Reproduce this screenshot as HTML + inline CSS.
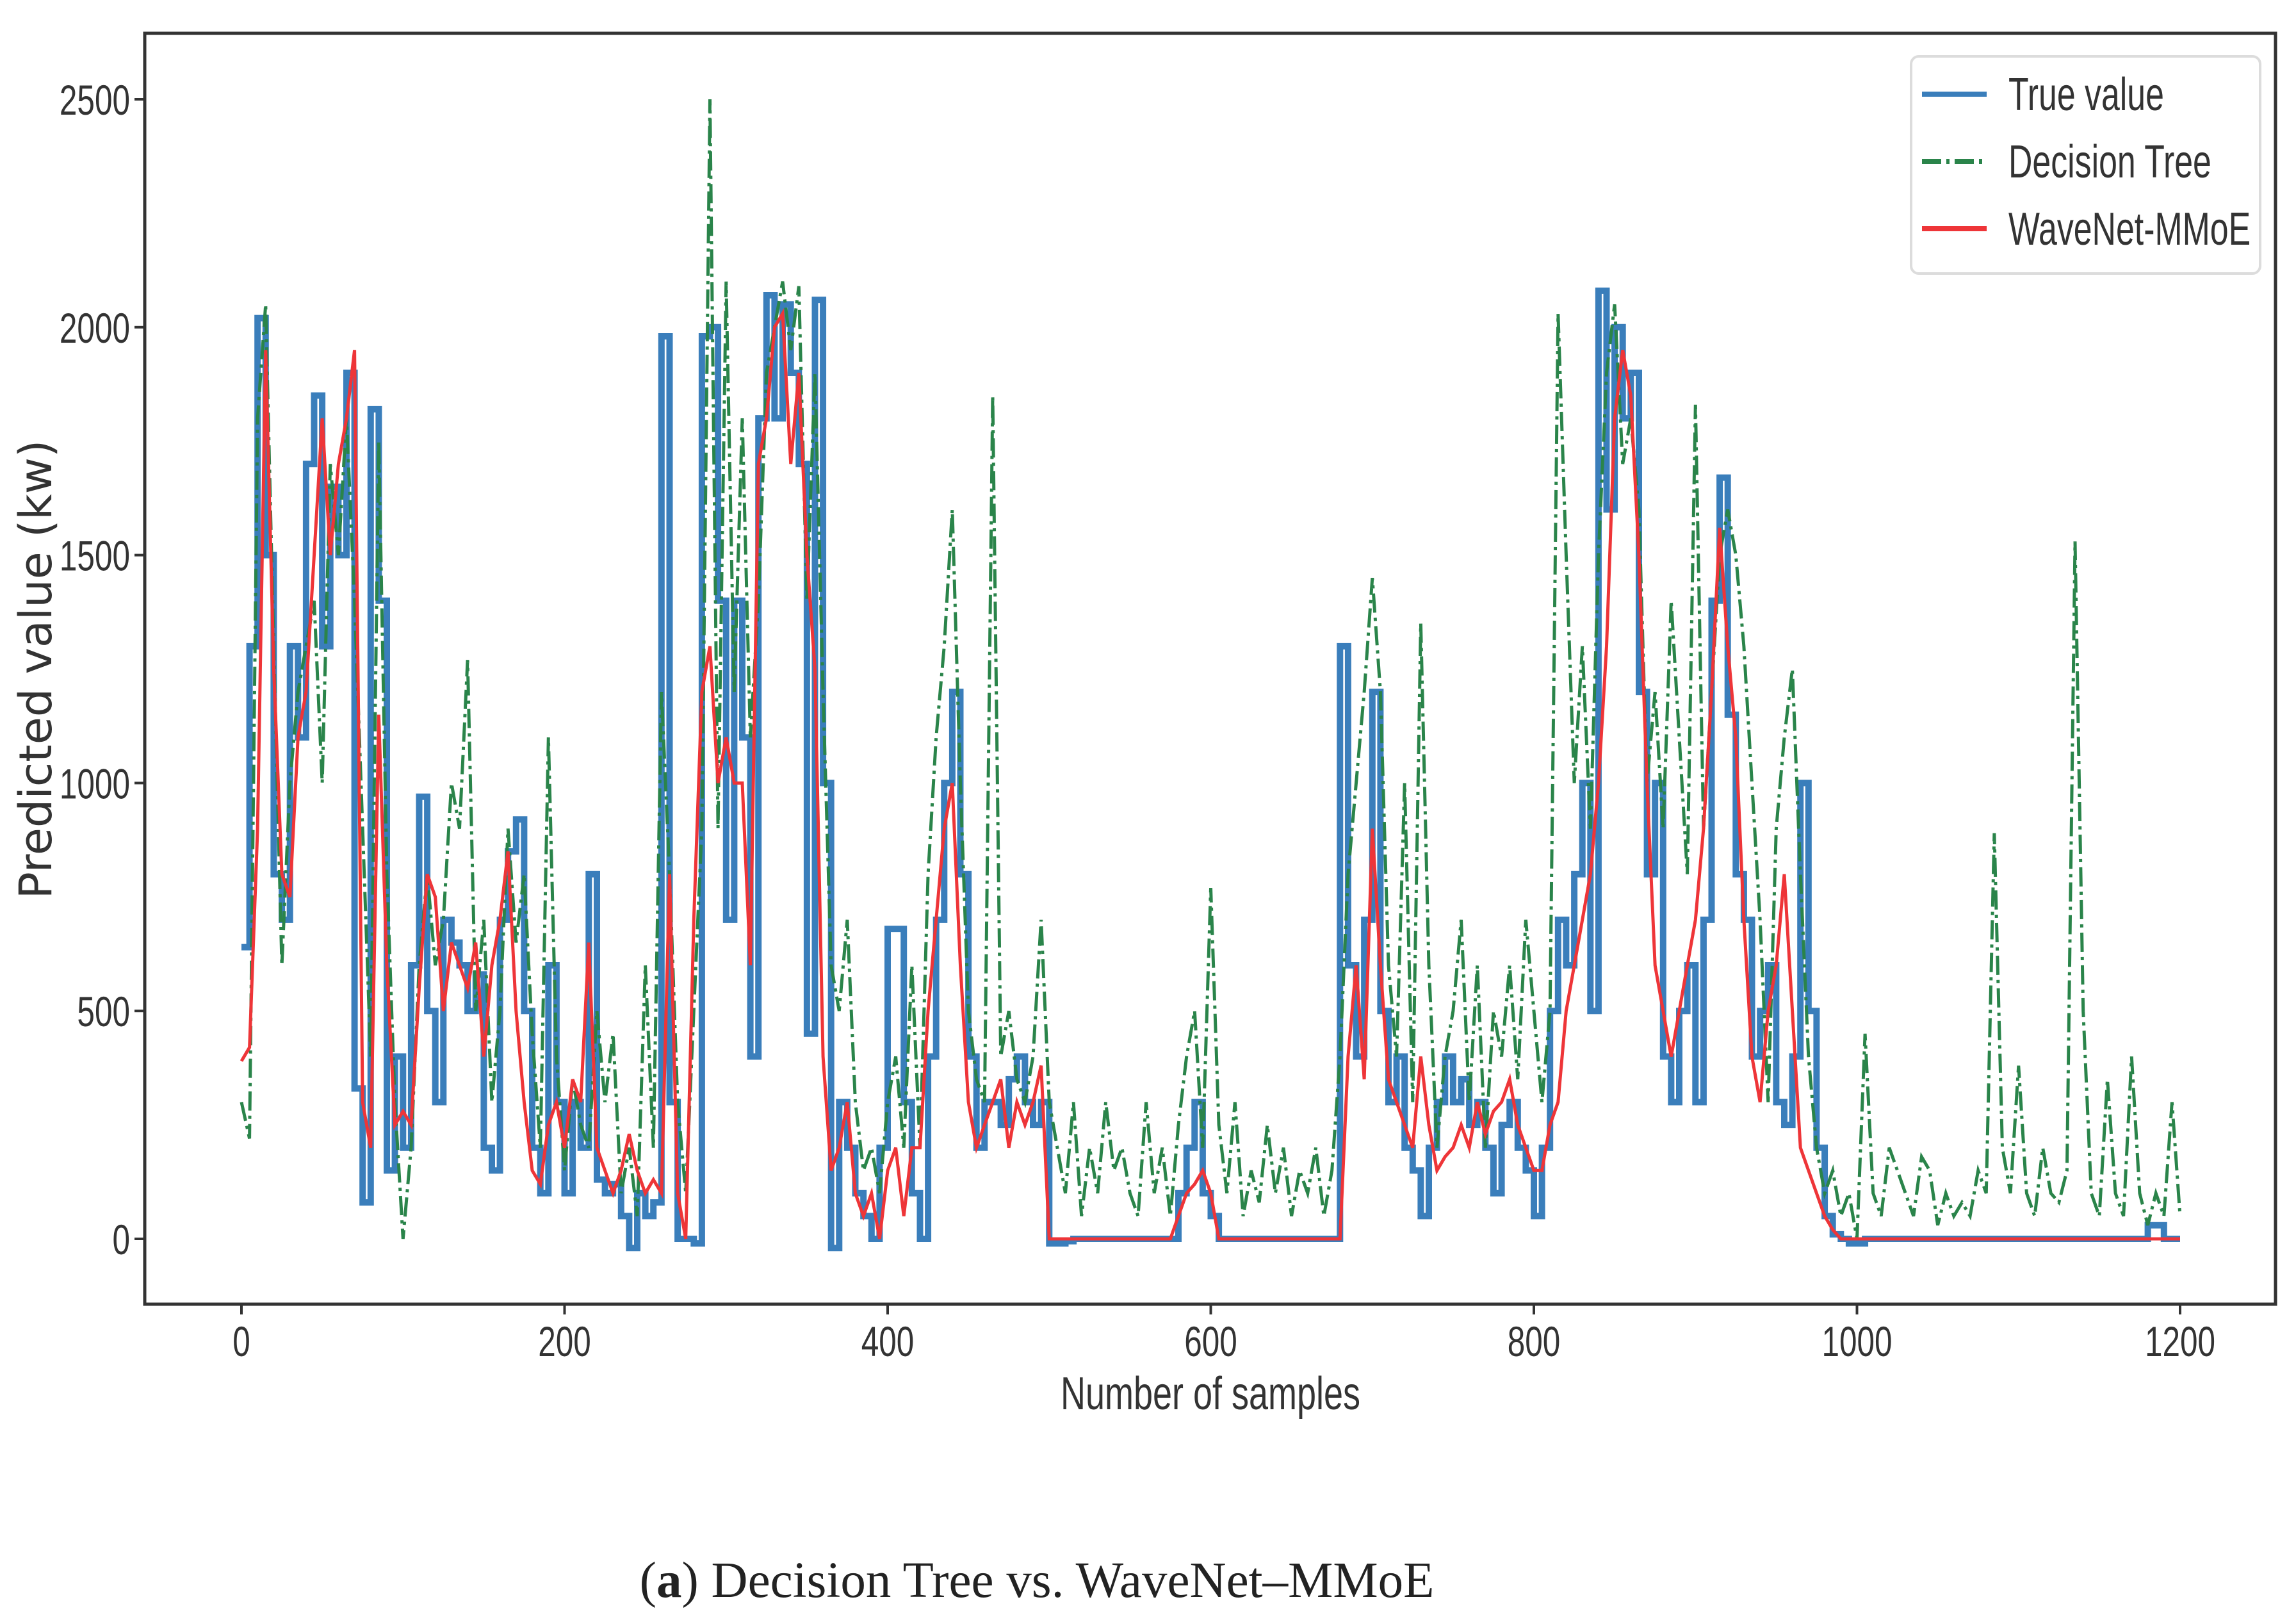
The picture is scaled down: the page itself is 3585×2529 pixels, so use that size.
<!DOCTYPE html>
<html><head><meta charset="utf-8"><style>html,body{margin:0;padding:0;background:#fff}svg{display:block}</style></head>
<body>
<svg id="chart" xmlns="http://www.w3.org/2000/svg" width="3585" height="2529" viewBox="0 0 3585 2529">
<rect x="0" y="0" width="3585" height="2529" fill="#fff"/>
<g id="series"></g>
<g id="axes"></g>
<g>
<rect x="2984" y="88" width="545" height="339" rx="12" fill="#fff" fill-opacity="0.85" stroke="#dcdcdc" stroke-width="4"/>
<line x1="3001" y1="147" x2="3102" y2="147" stroke="#3a7ebb" stroke-width="8"/>
<line x1="3001" y1="252" x2="3102" y2="252" stroke="#2a844a" stroke-width="8" stroke-dasharray="30,8,5,8"/>
<line x1="3001" y1="357" x2="3102" y2="357" stroke="#ee3538" stroke-width="8"/>
<g font-family="Liberation Sans, sans-serif" font-size="72" fill="#333">
<text transform="translate(3136,172) scale(0.72,1)">True value</text>
<text transform="translate(3136,277) scale(0.72,1)">Decision Tree</text>
<text transform="translate(3136,382) scale(0.72,1)">WaveNet-MMoE</text>
</g>
</g>
<text transform="translate(80,1045) rotate(-90)" text-anchor="middle" font-family="DejaVu Sans, sans-serif" font-size="70" fill="#333">Predicted value (kw)</text>
<text transform="translate(1890,2200) scale(0.75,1)" text-anchor="middle" font-family="Liberation Sans, sans-serif" font-size="72" fill="#333">Number of samples</text>
<text x="1619" y="2493" text-anchor="middle" font-family="Liberation Serif, serif" font-size="79" fill="#222">(<tspan font-weight="bold">a</tspan>) Decision Tree vs. WaveNet–MMoE</text>
</svg>
<script>
const samples = [];
for (let i = 0; i <= 240; i++) samples.push(i * 5);
const trueValue = [
640,1300,2020,1500,800,700,1300,1100,1700,1850,1300,1650,1500,1900,330,80,1820,1400,150,400,200,
600,970,500,300,700,650,600,500,580,200,150,700,850,920,500,200,100,600,300,100,
300,200,800,130,100,120,50,-20,100,50,80,1980,300,0,0,-10,1980,2000,1400,700,
1400,1100,400,1800,2070,1800,2050,1900,1700,450,2060,1000,-20,300,200,100,50,0,200,680,
680,300,100,0,400,700,1000,1200,800,400,200,300,300,250,350,400,300,250,300,-10,
-10,-5,0,0,0,0,0,0,0,0,0,0,0,0,0,100,200,300,100,50,
0,0,0,0,0,0,0,0,0,0,0,0,0,0,0,1300,600,400,700,1200,
500,300,400,200,150,50,200,300,400,300,350,250,300,200,100,250,300,200,150,50,
200,500,700,600,800,1000,500,2080,1600,2000,1800,1900,1200,800,1000,400,300,500,600,300,
700,1400,1670,1150,800,700,400,500,600,300,250,400,1000,500,200,50,10,0,-10,-10,
0,0,0,0,0,0,0,0,0,0,0,0,0,0,0,0,0,0,0,0,
0,0,0,0,0,0,0,0,0,0,0,0,0,0,0,30,30,0,0,0
];
const decisionTree = [
300,220,1800,2050,1300,600,1000,1200,1300,1400,1000,1700,1500,1800,1400,900,400,1750,800,300,0,
200,600,800,600,700,1000,900,1270,500,700,300,500,900,650,800,450,200,1100,400,150,
350,250,200,500,300,450,100,200,50,600,200,1200,800,300,100,500,900,2500,900,2100,
1200,1800,1100,1400,1900,2000,2100,1950,2090,1400,1900,1200,600,500,700,300,150,200,100,300,
400,200,600,200,800,1100,1300,1600,1000,500,350,300,1850,400,500,350,300,400,700,300,
200,100,300,50,200,100,300,150,200,100,50,300,100,200,50,250,400,500,200,770,
250,100,300,50,150,80,250,100,200,50,150,100,200,50,150,400,800,1000,1200,1450,
1200,600,400,1000,300,1350,600,200,400,500,700,300,600,200,500,400,600,350,700,500,
300,500,2030,1500,1000,1300,900,1500,1900,2050,1700,1800,1600,1000,1200,900,1400,1100,800,1830,
900,1200,1500,1600,1500,1300,1000,700,300,900,1100,1250,800,400,200,100,150,50,100,0,
450,100,50,200,150,100,50,180,150,30,100,50,80,50,150,100,890,200,100,380,
100,50,200,100,80,150,1530,500,100,50,350,100,50,400,100,30,100,50,300,50
];
const waveNet = [
390,420,900,1950,1250,800,750,1100,1200,1500,1800,1500,1700,1800,1950,300,200,1150,600,250,280,
250,550,800,750,500,650,600,550,650,400,600,700,850,500,300,150,120,250,300,200,
350,300,650,200,150,100,150,230,150,100,130,100,800,100,0,700,1200,1300,1000,1100,
1000,1000,600,1700,1800,2000,2030,1700,1900,1500,1250,400,150,200,300,100,50,100,0,150,
200,50,200,200,500,700,900,1000,600,300,200,250,300,350,200,300,250,300,380,0,
0,0,0,0,0,0,0,0,0,0,0,0,0,0,0,50,100,120,150,100,
0,0,0,0,0,0,0,0,0,0,0,0,0,0,0,0,400,600,350,900,
600,350,300,250,200,400,250,150,180,200,250,200,300,230,280,300,350,250,200,150,
150,250,300,500,600,700,800,1000,1300,1800,1950,1850,1500,1000,600,500,400,500,600,700,
900,1200,1560,1300,1100,700,400,300,500,600,800,500,200,150,100,50,20,0,0,0,
0,0,0,0,0,0,0,0,0,0,0,0,0,0,0,0,0,0,0,0,
0,0,0,0,0,0,0,0,0,0,0,0,0,0,0,0,0,0,0,0
];
const xTicks = [0,200,400,600,800,1000,1200];
const yTicks = [0,500,1000,1500,2000,2500];

const NS = 'http://www.w3.org/2000/svg';
const PL = 226, PR = 3553, PT = 52, PB = 2036;
function xs(s){ return 377 + s * (3404 - 377) / 1200; }
function ys(v){ return 1934 - v * (1934 - 155) / 2500; }

const series = document.getElementById('series');
function pathFor(vals, step){
  let d = '';
  for (let i = 0; i < vals.length; i++) {
    const x = xs(samples[i]).toFixed(1), y = ys(vals[i]).toFixed(1);
    if (i === 0) d += 'M' + x + ' ' + y;
    else if (step) d += 'H' + x + 'V' + y;
    else d += 'L' + x + ' ' + y;
  }
  return d;
}
function addSeries(vals, color, width, dash, name, step){
  const p = document.createElementNS(NS, 'path');
  p.setAttribute('d', pathFor(vals, step));
  p.setAttribute('fill', 'none');
  p.setAttribute('stroke', color);
  p.setAttribute('stroke-width', width);
  if (dash) p.setAttribute('stroke-dasharray', dash);
  
  
  series.appendChild(p);
}
addSeries(trueValue, '#3a7ebb', 10, null, 'true-value-line', true);
addSeries(decisionTree, '#2a844a', 5, '30,8,5,8', 'decision-tree-line', false);
addSeries(waveNet, '#ee3538', 5, null, 'wavenet-mmoe-line', false);

const axes = document.getElementById('axes');
const frame = document.createElementNS(NS, 'rect');
frame.setAttribute('x', PL); frame.setAttribute('y', PT);
frame.setAttribute('width', PR - PL); frame.setAttribute('height', PB - PT);
frame.setAttribute('fill', 'none'); frame.setAttribute('stroke', '#333'); frame.setAttribute('stroke-width', '5');


axes.appendChild(frame);

xTicks.forEach(t => {
  const x = xs(t);
  const l = document.createElementNS(NS, 'line');
  l.setAttribute('x1', x); l.setAttribute('x2', x); l.setAttribute('y1', PB); l.setAttribute('y2', PB + 16);
  l.setAttribute('stroke', '#333'); l.setAttribute('stroke-width', '4');
  
  
  axes.appendChild(l);
  const tx = document.createElementNS(NS, 'text');
  tx.setAttribute('transform', 'translate(' + x + ',2117) scale(0.75,1)');
  tx.setAttribute('text-anchor', 'middle');
  tx.setAttribute('font-family', 'Liberation Sans, sans-serif');
  tx.setAttribute('font-size', '66'); tx.setAttribute('fill', '#333');
  tx.textContent = t;
  
  
  axes.appendChild(tx);
});
yTicks.forEach(t => {
  const y = ys(t);
  const l = document.createElementNS(NS, 'line');
  l.setAttribute('x1', PL - 16); l.setAttribute('x2', PL); l.setAttribute('y1', y); l.setAttribute('y2', y);
  l.setAttribute('stroke', '#333'); l.setAttribute('stroke-width', '4');
  
  
  axes.appendChild(l);
  const tx = document.createElementNS(NS, 'text');
  tx.setAttribute('transform', 'translate(203,' + (y + 24) + ') scale(0.75,1)');
  tx.setAttribute('text-anchor', 'end');
  tx.setAttribute('font-family', 'Liberation Sans, sans-serif');
  tx.setAttribute('font-size', '66'); tx.setAttribute('fill', '#333');
  tx.textContent = t;
  
  
  axes.appendChild(tx);
});
</script>
</body></html>
